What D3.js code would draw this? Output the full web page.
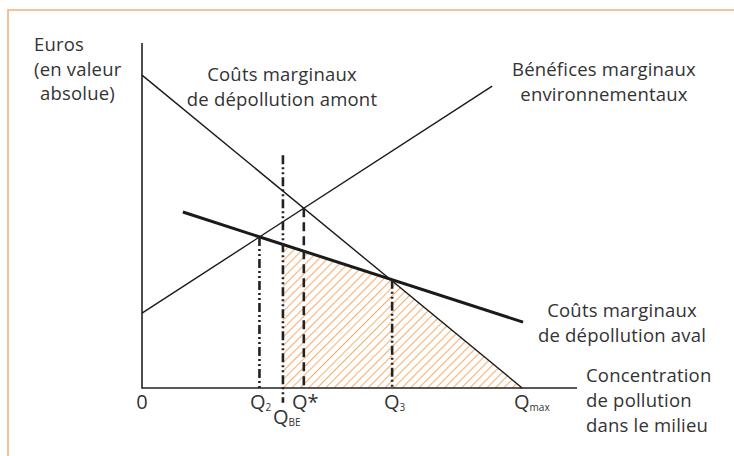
<!DOCTYPE html>
<html>
<head>
<meta charset="utf-8">
<script src="https://cdn.jsdelivr.net/npm/d3@7"></script>
<style>
  body { margin: 0; background: #fff; }
  text { font-family: "Open Sans", sans-serif; fill: #333; }
</style>
</head>
<body>
<script>
// curves, in abstract units (x: concentration, y: euros)
var amont = [[0, 90.7], [87.4, 0]];          // couts marginaux de depollution amont
var benefices = [[0, 21.7], [80.5, 87.5]];   // benefices marginaux environnementaux
var aval = [[9.4, 51.0], [87.6, 19.1]];      // couts marginaux de depollution aval

// points on the x axis
var qNames = ["Q2", "QBE", "Q*", "Q3", "Qmax"];
var qValues = [27.0, 32.4, 37.2, 57.5, 87.4];
var qbeTop = 67.5, qbeBottom = -4.3;

var width = 734, height = 456;
var x = d3.scaleLinear().domain([0, 100]).range([142, 577]);
var y = d3.scaleLinear().domain([0, 100]).range([388, 43]);

var svg = d3.select("body").append("svg")
    .attr("width", width)
    .attr("height", height);

// orange frame
svg.append("path")
    .attr("d", "M8," + height + "V10H" + width)
    .attr("fill", "none")
    .attr("stroke", "#f0b27a")
    .attr("stroke-width", 1.6);

// value of a straight segment at x
function at(seg, v) {
  var t = (v - seg[0][0]) / (seg[1][0] - seg[0][0]);
  return seg[0][1] + t * (seg[1][1] - seg[0][1]);
}

var line = d3.line()
    .x(function(d) { return x(d[0]); })
    .y(function(d) { return y(d[1]); });

// hatch pattern
var defs = svg.append("defs");
defs.append("pattern")
    .attr("id", "hatch")
    .attr("patternUnits", "userSpaceOnUse")
    .attr("width", 6)
    .attr("height", 6)
    .attr("patternTransform", "rotate(45)")
  .append("line")
    .attr("x1", 0.6).attr("y1", 0)
    .attr("x2", 0.6).attr("y2", 6)
    .attr("stroke", "#f2aa66")
    .attr("stroke-width", 1);

var qbe = qValues[1], q3 = qValues[3], qmax = qValues[4];
svg.append("path")
    .datum([[qbe, at(aval, qbe)], [q3, at(aval, q3)], [qmax, 0], [qbe, 0]])
    .attr("d", function(d) { return line(d) + "Z"; })
    .attr("fill", "url(#hatch)");

// axes
svg.append("path")
    .attr("d", "M" + x(0) + "," + y(100) + "V" + y(0) + "H" + x(100))
    .attr("fill", "none")
    .attr("stroke", "#222")
    .attr("stroke-width", 1.6);

// curves
[[amont, 1.4], [benefices, 1.4], [aval, 3]].forEach(function(c) {
  svg.append("path")
      .datum(c[0])
      .attr("d", line)
      .attr("fill", "none")
      .attr("stroke", "#1a1a1a")
      .attr("stroke-width", c[1]);
});

// vertical guides
var tops = [at(benefices, qValues[0]), qbeTop, at(amont, qValues[2]), at(aval, qValues[3])];
var dashes = ["9,3,2,3,2,3", "9,3,2,3,2,3", "9,5", "9,3,2,3,2,3"];
tops.forEach(function(t, i) {
  svg.append("line")
      .attr("x1", x(qValues[i])).attr("x2", x(qValues[i]))
      .attr("y1", y(t))
      .attr("y2", y(i === 1 ? qbeBottom : 0))
      .attr("stroke", "#222")
      .attr("stroke-width", 2.6)
      .attr("stroke-dasharray", dashes[i]);
});

// labels
function label(lines, cx, by, anchor, lh) {
  var t = svg.append("text")
      .attr("text-anchor", anchor)
      .style("font-size", "18.5px")
      .style("letter-spacing", "0.2px");
  lines.forEach(function(s, i) {
    t.append("tspan").attr("x", cx).attr("y", by + i * lh).text(s);
  });
}
label(["Euros", "(en valeur"], 34, 51, "start", 25);
label(["absolue)"], 40, 100, "start", 25);
label(["Coûts marginaux", "de dépollution amont"], 282, 81, "middle", 24.5);
label(["Bénéfices marginaux", "environnementaux"], 604, 76, "middle", 24.5);
label(["Coûts marginaux", "de dépollution aval"], 622, 317, "middle", 24.5);
label(["Concentration", "de pollution", "dans le milieu"], 586, 382, "start", 25);

svg.append("text")
    .attr("x", x(0)).attr("y", 409)
    .attr("text-anchor", "middle")
    .style("font-size", "20px")
    .text("0");

// Q labels with subscripts
var qMain = ["Q", "Q", "Q*", "Q", "Q"];
var qSub = ["2", "BE", "", "3", "max"];
var qLeft = [250, 273, 292, 384, 514];
var qBase = [409, 424, 409, 409, 409];
qNames.forEach(function(n, i) {
  var t = svg.append("text")
      .attr("x", qLeft[i]).attr("y", qBase[i])
      .style("font-size", "20px")
      .text(qMain[i]);
  if (qSub[i]) {
    t.append("tspan")
        .attr("dy", 2)
        .style("font-size", "10px")
        .text(qSub[i]);
  }
});
</script>
</body>
</html>
